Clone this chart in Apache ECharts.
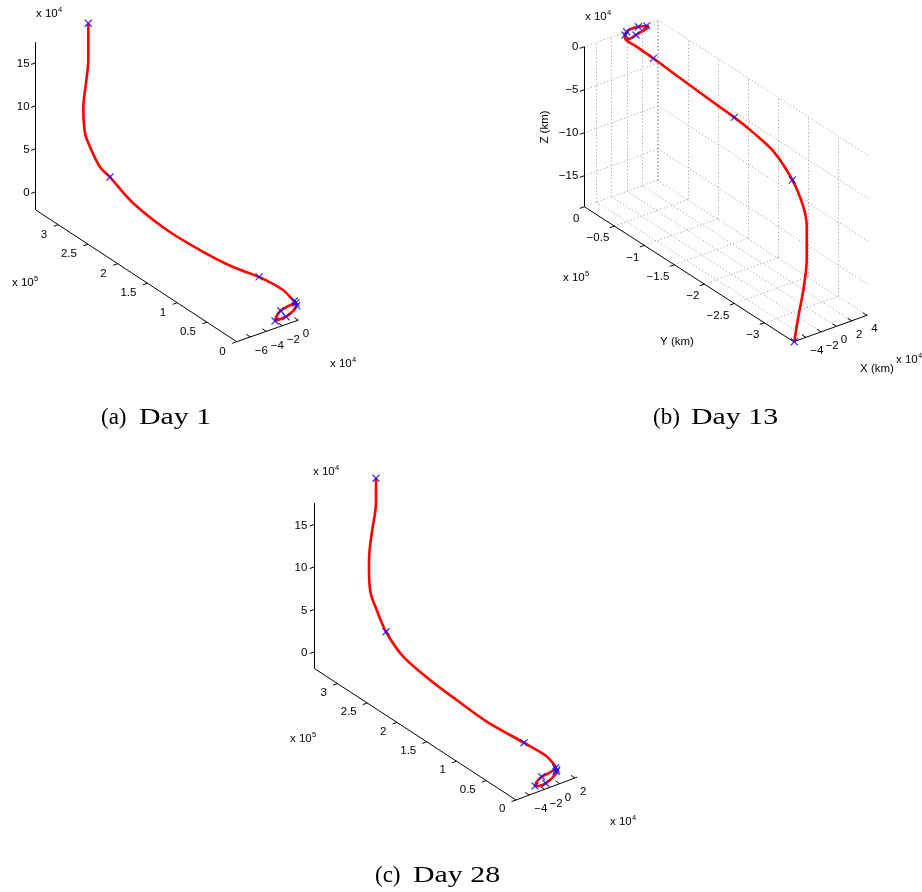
<!DOCTYPE html>
<html>
<head>
<meta charset="utf-8">
<script src="https://cdn.jsdelivr.net/npm/echarts@6/dist/echarts.min.js"></script>
<style>html,body{margin:0;padding:0;background:#fff}#c{width:922px;height:892px}</style>
</head>
<body>
<div id="c"></div>
<script>
// ===================== DATA (all coordinates in units of 1e4 km) =====================
// (a) Day 1 trajectory
const day1X = [0,0,0,0,0,0,0,0,0,0,0,0,0,0,0, -0.29,-1.25,-2.2,-2.7,-2.91,-2.29,-1.54,-0.83,-0.29,-0.33];
const day1Y = [35.29,35.29,35.68,36.13,35.85,35.01,33.33,31.65,27.78,22.07,16.52,10.97,6.6,2.57,0.89, 0,0,0,0,0,0,0,0,0,0];
const day1Z = [16.42,12.15,9.29,6.3,3.4,2.16,0.59,0.19,-1.08,-1.63,-1.44,-0.9,-0.07,0.24,-0.16, 0.02,-0.05,-0.29,-0.74,-1.25,-1.25,-1.2,-0.91,-0.44,0.02];
const day1MarkX = [0,0,0,-0.5,-0.29,-0.2,-2.2,-2.91,-1.54];
const day1MarkY = [35.29,31.65,6.6,0,0,0,0,0,0];
const day1MarkZ = [16.42,0.19,-0.07,0.29,0.02,-0.36,-0.29,-1.25,-1.2];
const day1XTicks = [-6,-4,-2,0];            // x 1e4 km
const day1YTicks = [0,0.5,1,1.5,2,2.5,3];   // x 1e5 km
const day1ZTicks = [0,5,10,15];             // x 1e4 km

// (b) Day 13 trajectory
const day13X = [0,0,0,0,0,0,0,0,0,0,0,0,0,0, -0.26,-0.04,0.66,1.49,2.59,2.8,2.14,1.18,0.17,-0.26];
const day13Y = [-27.89,-28.56,-29.39,-29.96,-29.96,-29.39,-27.56,-24.39,-21.06,-17.89,-13.29,-8.84,-4.39,-1.62, 0,0,0,0,0,0,0,0,0,0];
const day13Z = [-23.54,-20.33,-16.86,-13.11,-9.24,-7.17,-4.88,-2.95,-2.3,-1.95,-1.72,-1.45,-1.16,-1.05, -0.73,-0.03,0.12,0.06,-0.2,-0.36,-0.61,-0.8,-0.98,-0.73];
const day13MarkX = [0,0,0,0,-0.04,-0.26,1.49,2.59,1.18];
const day13MarkY = [-27.89,-27.56,-17.89,-4.39,0,0,0,0,0];
const day13MarkZ = [-23.54,-4.88,-1.95,-1.16,-0.03,-0.34,0.06,-0.2,-0.8];
const day13XTicks = [-4,-2,0,2,4];
const day13YTicks = [0,-0.5,-1,-1.5,-2,-2.5,-3];
const day13ZTicks = [0,-5,-10,-15];

// (c) Day 28 trajectory
const day28X = [0,0,0,0,0,0,0,0,0,0,0,0,0,0,0,0, -0.53,-1.5,-2.37,-3.02,-3.25,-2.59,-1.84,-1.05,-0.4,-0.53];
const day28Y = [30.88,30.88,31.05,31.6,32.0,32.06,31.77,30.76,29.2,26.29,21.8,17.32,12.28,6.01,2.48,1.35, 0,0,0,0,0,0,0,0,0,0];
const day28Z = [19.88,16.94,15.68,13.08,10.54,8.55,5.94,4.43,2.59,0.98,0.29,-0.02,-0.26,0.12,0.29,0.02, 0.1,-0.23,-0.34,-0.71,-1.14,-1.32,-1.29,-0.97,-0.41,0.1];
const day28MarkX = [0,0,0,-0.53,-0.4,-0.49,-2.37,-3.25,-1.84];
const day28MarkY = [30.88,29.2,6.01,0,0,0,0,0,0];
const day28MarkZ = [19.88,2.59,0.12,0.1,-0.21,-0.38,-0.34,-1.14,-1.29];
const day28XTicks = [-4,-2,0,2];
const day28YTicks = [0,0.5,1,1.5,2,2.5,3];
const day28ZTicks = [0,5,10,15];

// ===================== VIEW / LAYOUT =====================
const views = [
  { xs:day1X, ys:day1Y, zs:day1Z, mx:day1MarkX, my:day1MarkY, mz:day1MarkZ,
    xt:day1XTicks, yt:day1YTicks, zt:day1ZTicks,
    ox:236.7, oy:341.7, xr:[-7.7,0], yr:[0,33.8], zr:[-2.1,17.4],
    ex:[8,-2.8], ey:[-5.95,-3.9], ez:[0,-8.6], zAxisY:33.8, xAxisY:0, grid:false,
    lab:{z:[-6,1], y:[-11,10], x:[4.5,14]} },
  { xs:day13X, ys:day13Y, zs:day13Z, mx:day13MarkX, my:day13MarkY, mz:day13MarkZ,
    xt:day13XTicks, yt:day13YTicks, zt:day13ZTicks,
    ox:584.3, oy:206.7, xr:[-5.6,4.1], yr:[-34.9,0], zr:[-18.6,0],
    ex:[7.62,-2.75], ey:[-6.0,-3.87], ez:[0,-8.6], zAxisY:0, xAxisY:-34.9, grid:true,
    lab:{z:[-6,0], y:[-5,12], x:[4.3,13.5]} },
  { xs:day28X, ys:day28Y, zs:day28Z, mx:day28MarkX, my:day28MarkY, mz:day28MarkZ,
    xt:day28XTicks, yt:day28YTicks, zt:day28ZTicks,
    ox:516, oy:800, xr:[-5.74,2.3], yr:[0,33.9], zr:[-1.95,17.5],
    ex:[7.62,-2.85], ey:[-5.95,-3.88], ez:[0,-8.5], zAxisY:33.9, xAxisY:0, grid:false,
    lab:{z:[-7,1], y:[-10.5,9], x:[5,14]} }
];
const tickVecZ = [-4.5,1.6], tickVecY = [-4.5,1.6], tickVecX = [-4,-2.6];

function fmt(v){ return (v < 0 ? '\u2212' : '') + String(Math.abs(v)); }

const series = [];
const labels = [];
const FONT = '11.5px "Liberation Sans", Arial, sans-serif';

views.forEach(function(v){
  const P = function(X,Y,Z){
    return [v.ox + (X - v.xr[0])*v.ex[0] + Y*v.ey[0] + (Z - v.zr[0])*v.ez[0],
            v.oy + (X - v.xr[0])*v.ex[1] + Y*v.ey[1] + (Z - v.zr[0])*v.ez[1]];
  };
  const yt = v.yt.map(function(t){ return t*10; }); // 1e5 -> 1e4 units
  if (v.grid) {
    const g = [];
    const seg = function(a,b){ g.push({coords:[a,b]}); };
    v.xt.forEach(function(x){ seg(P(x,v.yr[0],v.zr[0]), P(x,v.yr[1],v.zr[0])); });
    yt.forEach(function(y){ seg(P(v.xr[0],y,v.zr[0]), P(v.xr[1],y,v.zr[0])); });
    v.xt.forEach(function(x){ seg(P(x,v.yr[1],v.zr[0]), P(x,v.yr[1],v.zr[1])); });
    v.zt.forEach(function(z){ seg(P(v.xr[0],v.yr[1],z), P(v.xr[1],v.yr[1],z)); });
    yt.forEach(function(y){ seg(P(v.xr[1],y,v.zr[0]), P(v.xr[1],y,v.zr[1])); });
    v.zt.forEach(function(z){ seg(P(v.xr[1],v.yr[0],z), P(v.xr[1],v.yr[1],z)); });
    series.push({ type:'lines', coordinateSystem:'cartesian2d', data:g, silent:true, z:1,
      lineStyle:{ color:'#999999', width:1, type:[1,2.5], opacity:1 } });
  }
  // axes and ticks
  const ax = [];
  const add = function(a,b){ ax.push({coords:[a,b]}); };
  add(P(v.xr[0],v.zAxisY,v.zr[0]), P(v.xr[0],v.zAxisY,v.zr[1]));
  add(P(v.xr[0],v.yr[0],v.zr[0]), P(v.xr[0],v.yr[1],v.zr[0]));
  add(P(v.xr[0],v.xAxisY,v.zr[0]), P(v.xr[1],v.xAxisY,v.zr[0]));
  v.zt.forEach(function(z){
    const p = P(v.xr[0],v.zAxisY,z);
    add(p,[p[0]+tickVecZ[0],p[1]+tickVecZ[1]]);
    labels.push({p:p, text:fmt(z), align:'right', d:v.lab.z});
  });
  yt.forEach(function(y,i){
    const p = P(v.xr[0],y,v.zr[0]);
    add(p,[p[0]+tickVecY[0],p[1]+tickVecY[1]]);
    labels.push({p:p, text:fmt(v.yt[i]), align:'right', d:v.lab.y});
  });
  v.xt.forEach(function(x){
    const p = P(x,v.xAxisY,v.zr[0]);
    add(p,[p[0]+tickVecX[0],p[1]+tickVecX[1]]);
    labels.push({p:p, text:fmt(x), align:'left', d:v.lab.x});
  });
  series.push({ type:'lines', coordinateSystem:'cartesian2d', data:ax, silent:true, z:2,
    lineStyle:{ color:'#000', width:1, opacity:1 } });
  // trajectory
  const pts = v.xs.map(function(x,i){ return P(x, v.ys[i], v.zs[i]); });
  series.push({ type:'line', data:pts, showSymbol:false, smooth:0.3, silent:true, z:3,
    lineStyle:{ color:'#ff0000', width:2.6 } });
  // markers
  const mk = v.mx.map(function(x,i){ return P(x, v.my[i], v.mz[i]); });
  series.push({ type:'scatter', data:mk, silent:true, z:4,
    symbol:'path://M0 0L10 10M10 0L0 10', symbolSize:7,
    itemStyle:{ color:'rgba(0,0,0,0)', borderColor:'#0000ff', borderWidth:1.2 } });
});

series.push({
  type:'custom', coordinateSystem:'cartesian2d', silent:true, z:5,
  data: labels.map(function(l){ return l.p; }),
  renderItem: function(params, api){
    const l = labels[params.dataIndex];
    const c = api.coord([api.value(0), api.value(1)]);
    return { type:'text', x:c[0]+l.d[0], y:c[1]+l.d[1],
      style:{ text:l.text, font:FONT, fill:'#000', align:l.align, verticalAlign:'middle',
              textAlign:l.align, textVerticalAlign:'middle' } };
  }
});

function expLabel(x, y, e){
  return [
    { type:'text', x:x, y:y, style:{ text:'x 10', font:FONT, fill:'#000', textVerticalAlign:'middle', verticalAlign:'middle' } },
    { type:'text', x:x+22, y:y-4, style:{ text:e, font:'7.5px "Liberation Sans", Arial, sans-serif', fill:'#000', textVerticalAlign:'middle', verticalAlign:'middle' } }
  ];
}
function plain(x, y, t, opts){
  return Object.assign({ type:'text', x:x, y:y, style:{ text:t, font:FONT, fill:'#000',
    textAlign:'center', align:'center', textVerticalAlign:'middle', verticalAlign:'middle' } }, opts || {});
}
const CAP = '23px "Liberation Serif", "Times New Roman", serif';
function cap(x, y, t, sx){
  return { type:'text', x:x, y:y, scaleX: sx || 1, style:{ text:t, font:CAP, fill:'#000', textVerticalAlign:'middle', verticalAlign:'middle' } };
}

const graphics = []
  .concat(expLabel(36,14,'4'), expLabel(12,283,'5'), expLabel(330,363.5,'4'))
  .concat(expLabel(585,16.5,'4'), expLabel(563,278,'5'), expLabel(896,360,'4'))
  .concat(expLabel(313,471.7,'4'), expLabel(290,739,'5'), expLabel(610,821.7,'4'))
  .concat([
    plain(545,127,'Z (km)',{rotation:Math.PI/2}),
    plain(677,342,'Y (km)'),
    plain(877,369,'X (km)'),
    cap(101,418,'(a)'), cap(139,418,'Day 1',1.3),
    cap(653,418,'(b)'), cap(691,418,'Day 13',1.3),
    cap(375,876,'(c)'), cap(413,876,'Day 28',1.3)
  ]);

const chart = echarts.init(document.getElementById('c'), null, {renderer:'canvas'});
chart.setOption({
  animation:false,
  backgroundColor:'#ffffff',
  grid:{ left:0, right:0, top:0, bottom:0 },
  xAxis:{ type:'value', min:0, max:922, show:false },
  yAxis:{ type:'value', min:0, max:892, inverse:true, show:false },
  series:series,
  graphic:{ elements:graphics }
});
</script>
</body>
</html>
